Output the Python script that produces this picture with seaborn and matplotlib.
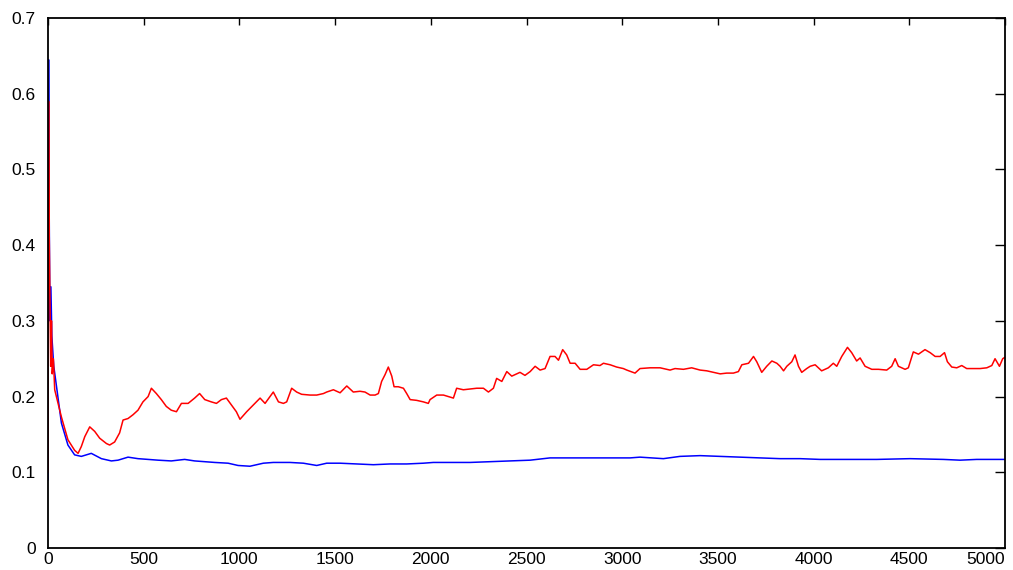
import numpy as np
import pandas as pd
import matplotlib
matplotlib.use("Agg")
import matplotlib.pyplot as plt
import seaborn as sns

# ---- data ----
red_x = [0, 3, 6, 10, 14, 18, 22, 28, 35, 70, 104, 139, 157, 174, 192, 218, 244, 270, 305, 322,
         348, 374, 392, 418, 444, 470, 496, 523, 540, 566, 592, 618, 644, 671, 697, 732, 766, 792,
         819, 853, 880, 906, 932, 958, 984, 1003, 1038, 1073, 1108, 1134, 1160, 1177, 1204, 1230,
         1247, 1273, 1299, 1325, 1369, 1404, 1439, 1456, 1491, 1526, 1561, 1595, 1630, 1656, 1683,
         1709, 1726, 1743, 1761, 1778, 1796, 1808, 1830, 1857, 1874, 1892, 1926, 1961, 1987, 1996,
         2031, 2066, 2092, 2118, 2135, 2170, 2205, 2240, 2275, 2301, 2327, 2344, 2371, 2397, 2423,
         2449, 2466, 2492, 2519, 2545, 2571, 2597, 2623, 2649, 2667, 2689, 2710, 2728, 2754, 2780,
         2815, 2850, 2884, 2902, 2937, 2971, 3006, 3024, 3067, 3093, 3146, 3198, 3250, 3276, 3320,
         3363, 3407, 3442, 3477, 3512, 3546, 3581, 3607, 3625, 3660, 3686, 3703, 3729, 3755, 3782,
         3808, 3825, 3843, 3860, 3886, 3903, 3921, 3938, 3964, 3982, 4008, 4042, 4077, 4103, 4121,
         4147, 4177, 4199, 4225, 4243, 4269, 4304, 4339, 4382, 4408, 4426, 4443, 4478, 4495, 4521,
         4548, 4582, 4609, 4635, 4661, 4684, 4699, 4722, 4748, 4774, 4800, 4835, 4870, 4905, 4931,
         4948, 4971, 4988, 5000]
red_y = [0.100, 0.590, 0.420, 0.330, 0.240, 0.300, 0.230, 0.250, 0.209, 0.173, 0.143, 0.129, 0.125,
         0.134, 0.147, 0.160, 0.154, 0.145, 0.138, 0.136, 0.140, 0.152, 0.169, 0.171, 0.176, 0.182,
         0.193, 0.200, 0.211, 0.204, 0.196, 0.187, 0.182, 0.180, 0.191, 0.191, 0.198, 0.204, 0.196,
         0.193, 0.191, 0.196, 0.198, 0.189, 0.180, 0.170, 0.180, 0.189, 0.198, 0.191, 0.200, 0.206,
         0.193, 0.191, 0.193, 0.211, 0.206, 0.203, 0.202, 0.202, 0.204, 0.206, 0.209, 0.205, 0.214,
         0.206, 0.207, 0.206, 0.202, 0.202, 0.204, 0.220, 0.229, 0.239, 0.227, 0.213, 0.213, 0.211,
         0.204, 0.196, 0.195, 0.193, 0.191, 0.196, 0.202, 0.202, 0.200, 0.198, 0.211, 0.209, 0.210,
         0.211, 0.211, 0.206, 0.211, 0.224, 0.220, 0.233, 0.227, 0.230, 0.232, 0.228, 0.233, 0.240,
         0.235, 0.237, 0.253, 0.253, 0.248, 0.262, 0.255, 0.244, 0.244, 0.236, 0.236, 0.242, 0.241,
         0.244, 0.242, 0.239, 0.237, 0.235, 0.231, 0.237, 0.238, 0.238, 0.235, 0.237, 0.236, 0.238,
         0.235, 0.234, 0.232, 0.230, 0.231, 0.231, 0.233, 0.242, 0.244, 0.253, 0.246, 0.232, 0.240,
         0.247, 0.244, 0.240, 0.234, 0.240, 0.246, 0.255, 0.240, 0.232, 0.237, 0.240, 0.242, 0.234,
         0.238, 0.244, 0.240, 0.253, 0.265, 0.258, 0.247, 0.251, 0.240, 0.236, 0.236, 0.235, 0.240,
         0.250, 0.240, 0.236, 0.238, 0.259, 0.256, 0.262, 0.258, 0.253, 0.253, 0.258, 0.246, 0.239,
         0.238, 0.241, 0.237, 0.237, 0.237, 0.238, 0.241, 0.250, 0.240, 0.250, 0.252]

blue_x = [0, 3, 6, 10, 15, 20, 30, 35, 70, 104, 139, 174, 226, 279, 331, 366, 418, 470, 523, 575,
          644, 714, 766, 871, 941, 993, 1055, 1125, 1177, 1264, 1334, 1404, 1456, 1526, 1613, 1700,
          1787, 1874, 1961, 2013, 2100, 2205, 2310, 2414, 2519, 2623, 2728, 2832, 2937, 3041, 3093,
          3215, 3302, 3407, 3511, 3616, 3720, 3825, 3930, 4034, 4156, 4330, 4504, 4678, 4765, 4852,
          5000]
blue_y = [0.090, 0.645, 0.450, 0.300, 0.345, 0.280, 0.240, 0.231, 0.165, 0.136, 0.123, 0.121, 0.125,
          0.118, 0.115, 0.116, 0.120, 0.118, 0.117, 0.116, 0.115, 0.117, 0.115, 0.113, 0.112, 0.109,
          0.108, 0.112, 0.113, 0.113, 0.112, 0.109, 0.112, 0.112, 0.111, 0.110, 0.111, 0.111, 0.112,
          0.113, 0.113, 0.113, 0.114, 0.115, 0.116, 0.119, 0.119, 0.119, 0.119, 0.119, 0.120, 0.118,
          0.121, 0.122, 0.121, 0.120, 0.119, 0.118, 0.118, 0.117, 0.117, 0.117, 0.118, 0.117, 0.116,
          0.117, 0.117]

x_ticks = [0, 500, 1000, 1500, 2000, 2500, 3000, 3500, 4000, 4500, 5000]
x_tick_labels = ["0", "500", "1000", "1500", "2000", "2500", "3000", "3500", "4000", "4500", "5000"]
y_ticks = [0, 0.1, 0.2, 0.3, 0.4, 0.5, 0.6, 0.7]
y_tick_labels = ["0", "0.1", "0.2", "0.3", "0.4", "0.5", "0.6", "0.7"]

df_blue = pd.DataFrame({"x": blue_x, "y": blue_y})
df_red = pd.DataFrame({"x": red_x, "y": red_y})

sns.set_style("white")
plt.rcParams["font.family"] = ["Liberation Sans", "DejaVu Sans"]

fig = plt.figure(figsize=(10.13, 5.70), dpi=100)
ax = fig.add_axes([0.0474, 0.0386, 0.9447, 0.9298])

sns.lineplot(data=df_blue, x="x", y="y", ax=ax, color="#0000ff", linewidth=1.1, estimator=None)
sns.lineplot(data=df_red, x="x", y="y", ax=ax, color="#ff0000", linewidth=1.1, estimator=None)

ax.set_xlim(0, 5000)
ax.set_ylim(0, 0.7)
ax.set_xticks(x_ticks)
ax.set_xticklabels(x_tick_labels)
ax.set_yticks(y_ticks)
ax.set_yticklabels(y_tick_labels)
ax.set_xlabel("")
ax.set_ylabel("")

ax.tick_params(axis="both", which="both", direction="in", top=True, right=True,
               colors="black", labelsize=12.5, width=1.0)
ax.tick_params(axis="x", length=5, pad=3)
ax.tick_params(axis="y", length=7, pad=9)
for s in ax.spines.values():
    s.set_visible(True)
    s.set_color("black")
    s.set_linewidth(1.3)

# keep the last x label inside the figure
last = ax.get_xticklabels()[-1]
last.set_horizontalalignment("right")

fig.savefig("out.png", dpi=100, facecolor="white")
